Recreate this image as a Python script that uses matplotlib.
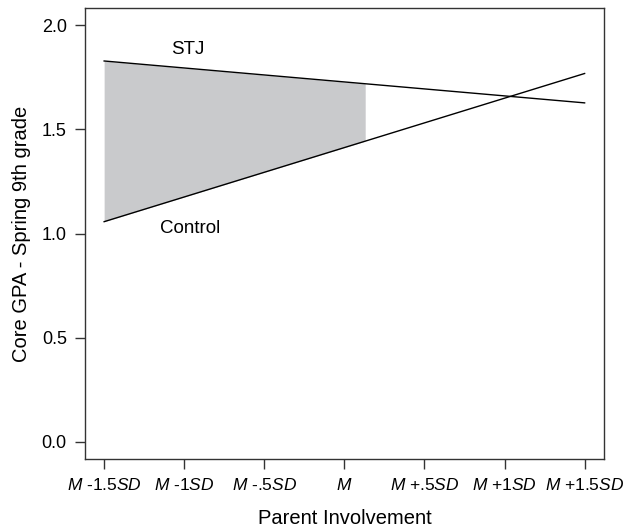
import matplotlib
matplotlib.use('Agg')
import matplotlib.pyplot as plt
import numpy as np

plt.rcParams['font.family'] = ['Liberation Sans', 'DejaVu Sans']
plt.rcParams['mathtext.fontset'] = 'custom'
plt.rcParams['mathtext.rm'] = 'Liberation Sans'
plt.rcParams['mathtext.it'] = 'Liberation Sans:italic'

# moderator levels (SD units) and simple slopes
x_levels = [-1.5, -1.0, -0.5, 0.0, 0.5, 1.0, 1.5]
x_labels = [r'$\mathit{M}$ -1.5$\mathit{SD}$', r'$\mathit{M}$ -1$\mathit{SD}$',
            r'$\mathit{M}$ -.5$\mathit{SD}$', r'$\mathit{M}$',
            r'$\mathit{M}$ +.5$\mathit{SD}$', r'$\mathit{M}$ +1$\mathit{SD}$',
            r'$\mathit{M}$ +1.5$\mathit{SD}$']
line_x = [-1.5, 1.5]
stj_y = [1.828, 1.627]
control_y = [1.057, 1.768]
sig_end = 0.13  # region of significance ends here
y_ticks = [0.0, 0.5, 1.0, 1.5, 2.0]

fig = plt.figure(figsize=(6.29, 5.29), dpi=100)
ax = fig.add_axes([0.135, 0.133, 0.825, 0.851])

ax.plot(line_x, stj_y, color='black', lw=1.0)
ax.plot(line_x, control_y, color='black', lw=1.0)

# shaded region between lines
xs = np.linspace(line_x[0], sig_end, 50)
top = np.interp(xs, line_x, stj_y)
bot = np.interp(xs, line_x, control_y)
ax.fill_between(xs, bot, top, color='#c9cacc', lw=0, zorder=0)

ax.text(-0.98, 1.885, 'STJ', fontsize=13.5, ha='center', va='center')
ax.text(-0.96, 1.026, 'Control', fontsize=13.5, ha='center', va='center')

ax.set_xlim(-1.62, 1.62)
ax.set_ylim(-0.08, 2.08)
ax.set_xticks(x_levels)
ax.set_xticklabels(x_labels, fontsize=12.5)
ax.set_yticks(y_ticks)
ax.set_yticklabels(['0.0', '0.5', '1.0', '1.5', '2.0'], fontsize=13)
ax.tick_params(direction='out', length=7, width=1, colors='#333333', labelcolor='black')
ax.tick_params(axis='x', pad=6)
ax.tick_params(axis='y', pad=6)
for s in ax.spines.values():
    s.set_color('#333333')
    s.set_linewidth(1)

ax.set_xlabel('Parent Involvement', fontsize=14.5, labelpad=12)
ax.set_ylabel('Core GPA - Spring 9th grade', fontsize=14.5, labelpad=8)

fig.savefig('out.png', dpi=100)
